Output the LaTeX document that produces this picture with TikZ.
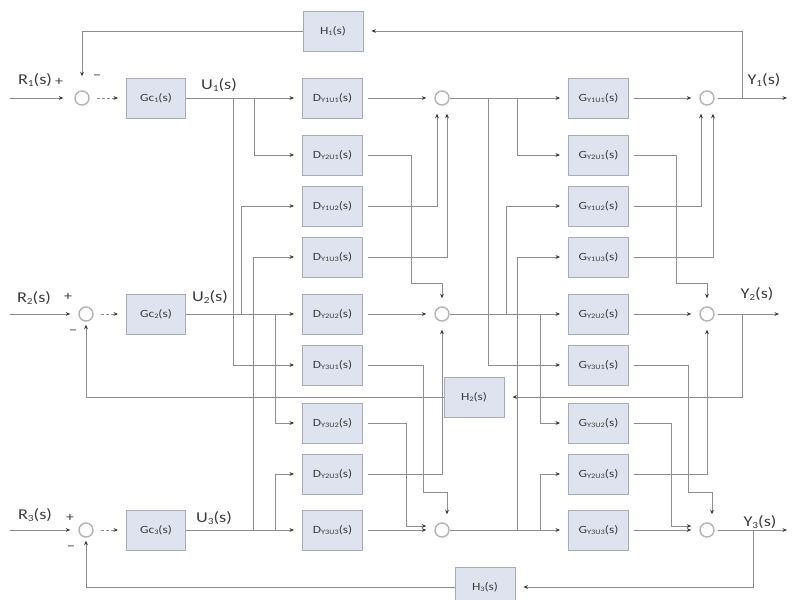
\documentclass[tikz,border=0pt]{standalone}
\usepackage{fontspec}
\usepackage{graphicx}
\setmainfont{Liberation Serif}
\newfontfamily\lab[FakeStretch=1.22]{Carlito}
\usetikzlibrary{arrows.meta,calc}
\definecolor{linec}{HTML}{8E8E8E}
\definecolor{tipc}{HTML}{3A3A3A}
\definecolor{boxb}{HTML}{A9ACB6}
\definecolor{boxf}{HTML}{DEE3EF}
\definecolor{sumc}{HTML}{B4B4B4}
\definecolor{txt}{HTML}{3C3C3C}
\newcommand\lsub[1]{\raisebox{-0.3ex}{\scalebox{0.62}{#1}}}
\begin{document}
\begin{tikzpicture}[x=1pt,y=-1pt,
  line/.style={draw=linec, line width=0.9pt},
  arr/.style={line, -{Stealth[length=4.5pt,width=3.8pt,color=tipc]}, shorten >=8pt},
  blk/.style={draw=boxb, fill=boxf, line width=0.9pt, minimum width=60pt, minimum height=40pt, inner sep=0pt, text=txt, font=\lab\fontsize{11}{11}\selectfont},
  sumn/.style={circle, draw=sumc, fill=white, line width=1.4pt, minimum size=14pt, inner sep=0pt},
  lbl/.style={text=txt, font=\lab\fontsize{15}{15}\selectfont, inner sep=0pt},
  sgn/.style={text=txt, font=\lab\fontsize{13}{13}\selectfont, inner sep=0pt}]
\fill[white] (0,0) rectangle (794,599);
\useasboundingbox (0,0) rectangle (794,599);

% ---------- left part ----------
\node[sumn] (s1) at (82,98) {};
\node[sumn] (s2) at (86,314) {};
\node[sumn] (s3) at (86,530) {};
\node[blk, minimum width=59pt] (Gc1) at (156,98) {Gc\lsub{1}(s)};
\node[blk, minimum width=59pt] (Gc2) at (156,314) {Gc\lsub{2}(s)};
\node[blk, minimum width=59pt] (Gc3) at (156,530) {Gc\lsub{3}(s)};

\node[lbl] (R1) at (35,80) {R\lsub{1}(s)};
\node[lbl] (R2) at (34,298) {R\lsub{2}(s)};
\node[lbl] (R3) at (35,515) {R\lsub{3}(s)};
\node[sgn] (p1) at (59,82) {+};
\node[sgn] (n1) at (97,77) {\textminus};
\node[sgn] (p2) at (68,297) {+};
\node[sgn] (n2) at (73,332) {\textminus};
\node[sgn] (p3) at (70,518) {+};
\node[sgn] (n3) at (71,548) {\textminus};
\node[lbl] (U1) at (219,85) {U\lsub{1}(s)};
\node[lbl] (U2) at (210,297) {U\lsub{2}(s)};
\node[lbl] (U3) at (214,518) {U\lsub{3}(s)};

% ---------- D column ----------
\node[blk] (D1) at (332.5,98) {D\lsub{Y1U1}(s)};
\node[blk] (D2) at (332.5,155) {D\lsub{Y2U1}(s)};
\node[blk] (D3) at (332.5,206) {D\lsub{Y1U2}(s)};
\node[blk] (D4) at (332.5,257) {D\lsub{Y1U3}(s)};
\node[blk] (D5) at (332.5,314) {D\lsub{Y2U2}(s)};
\node[blk] (D6) at (332.5,365) {D\lsub{Y3U1}(s)};
\node[blk] (D7) at (332.5,423) {D\lsub{Y3U2}(s)};
\node[blk] (D8) at (332.5,474) {D\lsub{Y2U3}(s)};
\node[blk] (D9) at (332.5,530) {D\lsub{Y3U3}(s)};

% ---------- middle sums ----------
\node[sumn] (m1) at (442,98) {};
\node[sumn] (m2) at (442,314) {};
\node[sumn] (m3) at (442,530) {};

% ---------- G column ----------
\node[blk] (G1) at (598.5,98) {G\lsub{Y1U1}(s)};
\node[blk] (G2) at (598.5,155) {G\lsub{Y2U1}(s)};
\node[blk] (G3) at (598.5,206) {G\lsub{Y1U2}(s)};
\node[blk] (G4) at (598.5,257) {G\lsub{Y1U3}(s)};
\node[blk] (G5) at (598.5,314) {G\lsub{Y2U2}(s)};
\node[blk] (G6) at (598.5,365) {G\lsub{Y3U1}(s)};
\node[blk] (G7) at (598.5,423) {G\lsub{Y3U2}(s)};
\node[blk] (G8) at (598.5,474) {G\lsub{Y2U3}(s)};
\node[blk] (G9) at (598.5,530) {G\lsub{Y3U3}(s)};

% ---------- right sums ----------
\node[sumn] (r1) at (707,98) {};
\node[sumn] (r2) at (707,314) {};
\node[sumn] (r3) at (707,530) {};
\node[lbl] (Y1) at (764,80) {Y\lsub{1}(s)};
\node[lbl] (Y2) at (757,294) {Y\lsub{2}(s)};
\node[lbl] (Y3) at (760,522) {Y\lsub{3}(s)};

% ---------- feedback blocks ----------
\node[blk] (H1) at (333,31) {H\lsub{1}(s)};
\node[blk] (H2) at (474,397) {H\lsub{2}(s)};
\node[blk] (H3) at (485,587) {H\lsub{3}(s)};

% ---------- inputs ----------
\coordinate (in1) at (10,98);
\coordinate (in2) at (10,314);
\coordinate (in3) at (10,530);
\draw[arr, shorten >=11pt] (in1) -- (s1);
\draw[arr] (in2) -- (s2);
\draw[arr] (in3) -- (s3);
\draw[arr, dash pattern=on 3pt off 2pt, shorten <=7pt] (s1) -- (Gc1);
\draw[arr, dash pattern=on 3pt off 2pt, shorten <=7pt] (s2) -- (Gc2);
\draw[arr, dash pattern=on 3pt off 2pt, shorten <=7pt] (s3) -- (Gc3);

% ---------- U distribution ----------
\draw[arr] (Gc1) -- (D1);
\draw[arr] (Gc2) -- (D5);
\draw[arr] (Gc3) -- (D9);
\coordinate (ja) at (233,98);
\coordinate (jb) at (254,98);
\coordinate (jc) at (241,314);
\coordinate (jd) at (275,314);
\coordinate (je) at (253,530);
\coordinate (jf) at (275,530);
\draw[arr] (ja) |- (D6);
\draw[arr] (jb) |- (D2);
\draw[arr] (jc) |- (D3);
\draw[arr] (jd) |- (D7);
\draw[arr] (je) |- (D4);
\draw[arr] (jf) |- (D8);

% ---------- D outputs to middle sums ----------
\draw[arr, shorten <=5pt] (D1) -- (m1);
\draw[arr, shorten <=5pt] (D2.east) -- ++(48.5,0) -- ++(0,128) -| (m2.north);
\draw[arr, shorten <=5pt] (D3.east) -| ([xshift=-5pt]m1.south);
\draw[arr, shorten <=5pt] (D4.east) -| ([xshift=5pt]m1.south);
\draw[arr, shorten <=5pt] (D5) -- (m2);
\draw[arr, shorten <=5pt] (D6.east) -- ++(60.5,0) -- ++(0,127) -| ([xshift=5pt]m3.north);
\draw[arr, shorten <=5pt] (D7.east) -- ++(43.5,0) |- ([yshift=4pt]m3.west);
\draw[arr, shorten <=5pt] (D8.east) -| (m2.south);
\draw[arr, shorten <=5pt] (D9) -- (m3);

% ---------- middle sums to G ----------
\draw[arr] (m1) -- (G1);
\draw[arr] (m2) -- (G5);
\draw[arr] (m3) -- (G9);
\coordinate (ka) at (488,98);
\coordinate (kb) at (517,98);
\coordinate (kc) at (506,314);
\coordinate (kd) at (540,314);
\coordinate (ke) at (517,530);
\coordinate (kf) at (540,530);
\draw[arr] (ka) |- (G6);
\draw[arr] (kb) |- (G2);
\draw[arr] (kc) |- (G3);
\draw[arr] (kd) |- (G7);
\draw[arr] (ke) |- (G4);
\draw[arr] (kf) |- (G8);

% ---------- G outputs to right sums ----------
\draw[arr, shorten <=5pt] (G1) -- (r1);
\draw[arr, shorten <=5pt] (G2.east) -- ++(47.5,0) -- ++(0,128) -| (r2.north);
\draw[arr, shorten <=5pt] (G3.east) -| ([xshift=-6pt]r1.south);
\draw[arr, shorten <=5pt] (G4.east) -| ([xshift=6pt]r1.south);
\draw[arr, shorten <=5pt] (G5) -- (r2);
\draw[arr, shorten <=5pt] (G6.east) -- ++(59.5,0) -- ++(0,127) -| ([xshift=5pt]r3.north);
\draw[arr, shorten <=5pt] (G7.east) -- ++(42.5,0) |- ([yshift=4pt]r3.west);
\draw[arr, shorten <=5pt] (G8.east) -| (r2.south);
\draw[arr, shorten <=5pt] (G9) -- (r3);

% ---------- outputs and feedback ----------
\coordinate (o1) at (787,98);
\coordinate (o2) at (779,314);
\coordinate (o3) at (787,530);
\draw[arr, shorten >=0pt, shorten <=3pt] (r1) -- (o1);
\draw[arr, shorten >=0pt, shorten <=3pt] (r2) -- (o2);
\draw[arr, shorten >=0pt, shorten <=3pt] (r3) -- (o3);
\coordinate (t1) at (742,98);
\coordinate (t2) at (742,314);
\coordinate (t3) at (753,530);
\draw[arr] (t1) |- (H1.east);
\draw[arr] (t2) |- (H2.east);
\draw[arr] (t3) |- (H3.east);
\draw[arr, shorten >=14pt] (H1.west) -| (s1.north);
\draw[arr, shorten >=3pt] (H2.west) -| (s2.south);
\draw[arr, shorten >=3pt] (H3.west) -| (s3.south);
\end{tikzpicture}
\end{document}
